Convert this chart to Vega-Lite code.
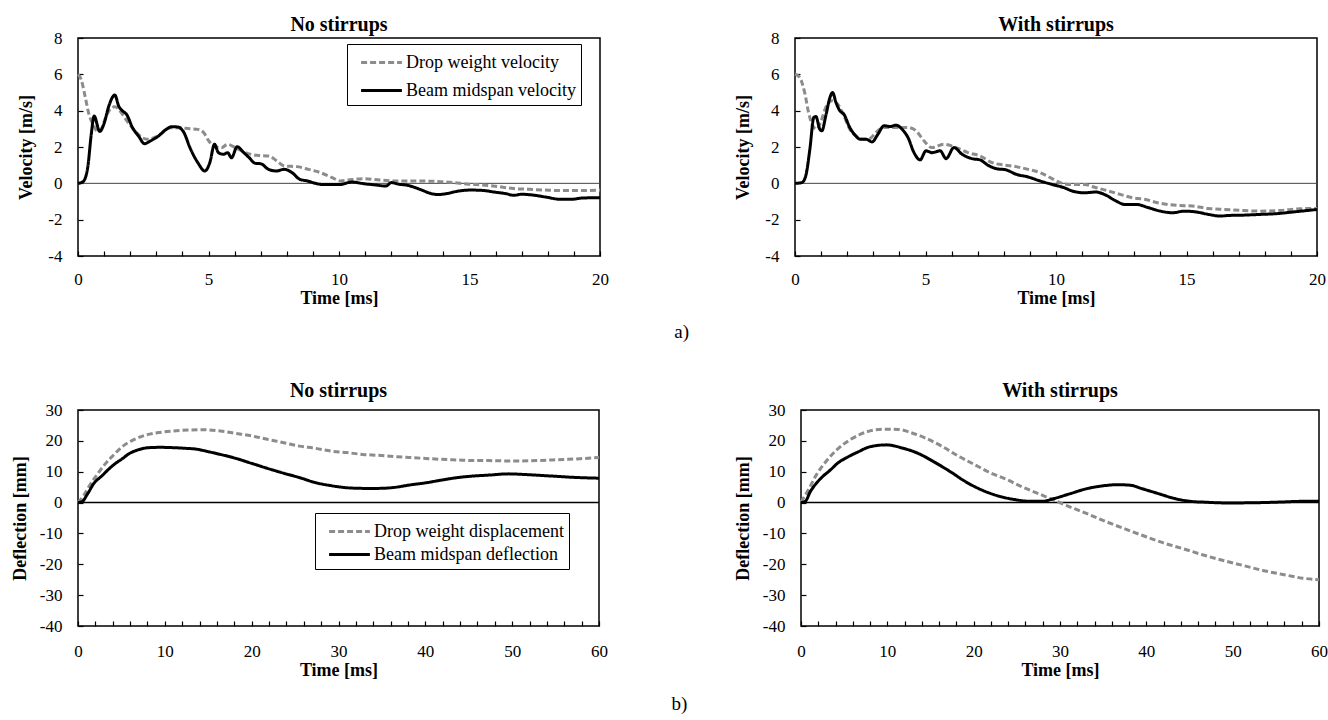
{
  "$schema": "https://vega.github.io/schema/vega-lite/v6.json",
  "background": "white",
  "padding": {"left": 10, "top": 14, "right": 2, "bottom": 2},
  "spacing": 38,
  "datasets": {
    "velNo": [
      {"t":0,"v":6.0,"s":"Drop weight velocity"},{"t":0.12,"v":5.72,"s":"Drop weight velocity"},{"t":0.27,"v":4.8,"s":"Drop weight velocity"},{"t":0.42,"v":3.8,"s":"Drop weight velocity"},{"t":0.58,"v":3.25,"s":"Drop weight velocity"},{"t":0.73,"v":2.88,"s":"Drop weight velocity"},{"t":0.88,"v":2.97,"s":"Drop weight velocity"},{"t":1.03,"v":3.52,"s":"Drop weight velocity"},{"t":1.23,"v":4.07,"s":"Drop weight velocity"},{"t":1.41,"v":4.22,"s":"Drop weight velocity"},{"t":1.56,"v":4.07,"s":"Drop weight velocity"},{"t":1.79,"v":3.61,"s":"Drop weight velocity"},{"t":2.02,"v":3.16,"s":"Drop weight velocity"},{"t":2.24,"v":2.79,"s":"Drop weight velocity"},{"t":2.47,"v":2.51,"s":"Drop weight velocity"},{"t":2.7,"v":2.42,"s":"Drop weight velocity"},{"t":2.92,"v":2.51,"s":"Drop weight velocity"},{"t":3.23,"v":2.79,"s":"Drop weight velocity"},{"t":3.53,"v":3.06,"s":"Drop weight velocity"},{"t":3.83,"v":3.06,"s":"Drop weight velocity"},{"t":4.29,"v":3.0,"s":"Drop weight velocity"},{"t":4.59,"v":2.97,"s":"Drop weight velocity"},{"t":4.82,"v":2.79,"s":"Drop weight velocity"},{"t":4.97,"v":2.42,"s":"Drop weight velocity"},{"t":5.2,"v":2.06,"s":"Drop weight velocity"},{"t":5.5,"v":1.96,"s":"Drop weight velocity"},{"t":5.73,"v":2.15,"s":"Drop weight velocity"},{"t":6.03,"v":1.96,"s":"Drop weight velocity"},{"t":6.41,"v":1.69,"s":"Drop weight velocity"},{"t":6.86,"v":1.54,"s":"Drop weight velocity"},{"t":7.32,"v":1.5,"s":"Drop weight velocity"},{"t":7.62,"v":1.23,"s":"Drop weight velocity"},{"t":7.92,"v":0.95,"s":"Drop weight velocity"},{"t":8.38,"v":0.92,"s":"Drop weight velocity"},{"t":8.83,"v":0.77,"s":"Drop weight velocity"},{"t":9.29,"v":0.59,"s":"Drop weight velocity"},{"t":9.74,"v":0.31,"s":"Drop weight velocity"},{"t":10.05,"v":0.13,"s":"Drop weight velocity"},{"t":10.35,"v":0.18,"s":"Drop weight velocity"},{"t":10.95,"v":0.26,"s":"Drop weight velocity"},{"t":11.56,"v":0.18,"s":"Drop weight velocity"},{"t":12.17,"v":0.13,"s":"Drop weight velocity"},{"t":12.9,"v":0.13,"s":"Drop weight velocity"},{"t":13.7,"v":0.11,"s":"Drop weight velocity"},{"t":14.4,"v":0.04,"s":"Drop weight velocity"},{"t":14.9,"v":-0.04,"s":"Drop weight velocity"},{"t":15.5,"v":-0.09,"s":"Drop weight velocity"},{"t":16.1,"v":-0.18,"s":"Drop weight velocity"},{"t":16.7,"v":-0.29,"s":"Drop weight velocity"},{"t":17.3,"v":-0.33,"s":"Drop weight velocity"},{"t":17.9,"v":-0.37,"s":"Drop weight velocity"},{"t":18.5,"v":-0.4,"s":"Drop weight velocity"},{"t":19.3,"v":-0.4,"s":"Drop weight velocity"},{"t":20,"v":-0.37,"s":"Drop weight velocity"},
      {"t":0,"v":0,"s":"Beam midspan velocity"},{"t":0.2,"v":0.1,"s":"Beam midspan velocity"},{"t":0.38,"v":0.95,"s":"Beam midspan velocity"},{"t":0.5,"v":2.6,"s":"Beam midspan velocity"},{"t":0.62,"v":3.7,"s":"Beam midspan velocity"},{"t":0.83,"v":2.85,"s":"Beam midspan velocity"},{"t":1.0,"v":3.3,"s":"Beam midspan velocity"},{"t":1.18,"v":4.25,"s":"Beam midspan velocity"},{"t":1.41,"v":4.86,"s":"Beam midspan velocity"},{"t":1.56,"v":4.25,"s":"Beam midspan velocity"},{"t":1.71,"v":3.98,"s":"Beam midspan velocity"},{"t":1.86,"v":3.8,"s":"Beam midspan velocity"},{"t":2.09,"v":3.06,"s":"Beam midspan velocity"},{"t":2.32,"v":2.6,"s":"Beam midspan velocity"},{"t":2.55,"v":2.18,"s":"Beam midspan velocity"},{"t":2.77,"v":2.33,"s":"Beam midspan velocity"},{"t":3.08,"v":2.6,"s":"Beam midspan velocity"},{"t":3.38,"v":2.97,"s":"Beam midspan velocity"},{"t":3.6,"v":3.12,"s":"Beam midspan velocity"},{"t":3.83,"v":3.1,"s":"Beam midspan velocity"},{"t":4.06,"v":2.79,"s":"Beam midspan velocity"},{"t":4.29,"v":1.96,"s":"Beam midspan velocity"},{"t":4.59,"v":1.14,"s":"Beam midspan velocity"},{"t":4.86,"v":0.68,"s":"Beam midspan velocity"},{"t":5.05,"v":1.14,"s":"Beam midspan velocity"},{"t":5.23,"v":2.15,"s":"Beam midspan velocity"},{"t":5.38,"v":1.69,"s":"Beam midspan velocity"},{"t":5.58,"v":1.6,"s":"Beam midspan velocity"},{"t":5.73,"v":1.69,"s":"Beam midspan velocity"},{"t":5.88,"v":1.41,"s":"Beam midspan velocity"},{"t":6.1,"v":2.02,"s":"Beam midspan velocity"},{"t":6.33,"v":1.72,"s":"Beam midspan velocity"},{"t":6.56,"v":1.41,"s":"Beam midspan velocity"},{"t":6.79,"v":1.1,"s":"Beam midspan velocity"},{"t":7.0,"v":1.08,"s":"Beam midspan velocity"},{"t":7.3,"v":0.77,"s":"Beam midspan velocity"},{"t":7.6,"v":0.68,"s":"Beam midspan velocity"},{"t":7.9,"v":0.77,"s":"Beam midspan velocity"},{"t":8.2,"v":0.59,"s":"Beam midspan velocity"},{"t":8.5,"v":0.22,"s":"Beam midspan velocity"},{"t":8.8,"v":0.13,"s":"Beam midspan velocity"},{"t":9.1,"v":0,"s":"Beam midspan velocity"},{"t":9.4,"v":-0.07,"s":"Beam midspan velocity"},{"t":10.0,"v":-0.07,"s":"Beam midspan velocity"},{"t":10.5,"v":0.07,"s":"Beam midspan velocity"},{"t":10.95,"v":-0.02,"s":"Beam midspan velocity"},{"t":11.4,"v":-0.09,"s":"Beam midspan velocity"},{"t":11.8,"v":-0.15,"s":"Beam midspan velocity"},{"t":12.0,"v":0.04,"s":"Beam midspan velocity"},{"t":12.3,"v":-0.05,"s":"Beam midspan velocity"},{"t":12.6,"v":-0.1,"s":"Beam midspan velocity"},{"t":13.1,"v":-0.33,"s":"Beam midspan velocity"},{"t":13.5,"v":-0.55,"s":"Beam midspan velocity"},{"t":13.8,"v":-0.62,"s":"Beam midspan velocity"},{"t":14.1,"v":-0.57,"s":"Beam midspan velocity"},{"t":14.6,"v":-0.42,"s":"Beam midspan velocity"},{"t":15.05,"v":-0.37,"s":"Beam midspan velocity"},{"t":15.5,"v":-0.39,"s":"Beam midspan velocity"},{"t":15.95,"v":-0.48,"s":"Beam midspan velocity"},{"t":16.4,"v":-0.57,"s":"Beam midspan velocity"},{"t":16.7,"v":-0.66,"s":"Beam midspan velocity"},{"t":17.0,"v":-0.6,"s":"Beam midspan velocity"},{"t":17.5,"v":-0.66,"s":"Beam midspan velocity"},{"t":17.9,"v":-0.75,"s":"Beam midspan velocity"},{"t":18.5,"v":-0.88,"s":"Beam midspan velocity"},{"t":18.9,"v":-0.88,"s":"Beam midspan velocity"},{"t":19.3,"v":-0.81,"s":"Beam midspan velocity"},{"t":20,"v":-0.79,"s":"Beam midspan velocity"}
    ],
    "velWith": [
      {"t":0,"v":6.02,"s":"Drop weight velocity"},{"t":0.18,"v":5.83,"s":"Drop weight velocity"},{"t":0.37,"v":5.0,"s":"Drop weight velocity"},{"t":0.52,"v":3.9,"s":"Drop weight velocity"},{"t":0.68,"v":3.17,"s":"Drop weight velocity"},{"t":0.83,"v":2.98,"s":"Drop weight velocity"},{"t":0.98,"v":3.35,"s":"Drop weight velocity"},{"t":1.18,"v":4.18,"s":"Drop weight velocity"},{"t":1.41,"v":4.55,"s":"Drop weight velocity"},{"t":1.64,"v":4.36,"s":"Drop weight velocity"},{"t":1.87,"v":3.72,"s":"Drop weight velocity"},{"t":2.1,"v":2.98,"s":"Drop weight velocity"},{"t":2.33,"v":2.61,"s":"Drop weight velocity"},{"t":2.64,"v":2.43,"s":"Drop weight velocity"},{"t":2.87,"v":2.47,"s":"Drop weight velocity"},{"t":3.1,"v":2.8,"s":"Drop weight velocity"},{"t":3.41,"v":3.07,"s":"Drop weight velocity"},{"t":3.87,"v":3.07,"s":"Drop weight velocity"},{"t":4.33,"v":3.07,"s":"Drop weight velocity"},{"t":4.64,"v":2.89,"s":"Drop weight velocity"},{"t":4.94,"v":2.34,"s":"Drop weight velocity"},{"t":5.25,"v":1.97,"s":"Drop weight velocity"},{"t":5.71,"v":2.15,"s":"Drop weight velocity"},{"t":6.17,"v":1.97,"s":"Drop weight velocity"},{"t":6.63,"v":1.69,"s":"Drop weight velocity"},{"t":7.09,"v":1.51,"s":"Drop weight velocity"},{"t":7.55,"v":1.14,"s":"Drop weight velocity"},{"t":8.01,"v":1.01,"s":"Drop weight velocity"},{"t":8.47,"v":0.92,"s":"Drop weight velocity"},{"t":8.93,"v":0.77,"s":"Drop weight velocity"},{"t":9.39,"v":0.59,"s":"Drop weight velocity"},{"t":9.85,"v":0.26,"s":"Drop weight velocity"},{"t":10.16,"v":0.04,"s":"Drop weight velocity"},{"t":10.62,"v":-0.07,"s":"Drop weight velocity"},{"t":11.08,"v":-0.07,"s":"Drop weight velocity"},{"t":11.54,"v":-0.24,"s":"Drop weight velocity"},{"t":12.0,"v":-0.42,"s":"Drop weight velocity"},{"t":12.46,"v":-0.61,"s":"Drop weight velocity"},{"t":12.92,"v":-0.79,"s":"Drop weight velocity"},{"t":13.38,"v":-0.88,"s":"Drop weight velocity"},{"t":14.0,"v":-1.1,"s":"Drop weight velocity"},{"t":14.61,"v":-1.21,"s":"Drop weight velocity"},{"t":15.23,"v":-1.25,"s":"Drop weight velocity"},{"t":15.84,"v":-1.38,"s":"Drop weight velocity"},{"t":16.45,"v":-1.44,"s":"Drop weight velocity"},{"t":17.07,"v":-1.49,"s":"Drop weight velocity"},{"t":17.84,"v":-1.53,"s":"Drop weight velocity"},{"t":18.6,"v":-1.49,"s":"Drop weight velocity"},{"t":19.37,"v":-1.4,"s":"Drop weight velocity"},{"t":20,"v":-1.38,"s":"Drop weight velocity"},
      {"t":0,"v":0,"s":"Beam midspan velocity"},{"t":0.26,"v":0.04,"s":"Beam midspan velocity"},{"t":0.41,"v":0.4,"s":"Beam midspan velocity"},{"t":0.57,"v":1.88,"s":"Beam midspan velocity"},{"t":0.72,"v":3.63,"s":"Beam midspan velocity"},{"t":0.8,"v":3.68,"s":"Beam midspan velocity"},{"t":0.95,"v":2.98,"s":"Beam midspan velocity"},{"t":1.03,"v":2.89,"s":"Beam midspan velocity"},{"t":1.18,"v":3.72,"s":"Beam midspan velocity"},{"t":1.34,"v":4.73,"s":"Beam midspan velocity"},{"t":1.44,"v":5.0,"s":"Beam midspan velocity"},{"t":1.57,"v":4.45,"s":"Beam midspan velocity"},{"t":1.72,"v":3.99,"s":"Beam midspan velocity"},{"t":1.87,"v":3.81,"s":"Beam midspan velocity"},{"t":2.1,"v":3.07,"s":"Beam midspan velocity"},{"t":2.33,"v":2.61,"s":"Beam midspan velocity"},{"t":2.49,"v":2.43,"s":"Beam midspan velocity"},{"t":2.72,"v":2.43,"s":"Beam midspan velocity"},{"t":2.95,"v":2.28,"s":"Beam midspan velocity"},{"t":3.18,"v":2.71,"s":"Beam midspan velocity"},{"t":3.41,"v":3.17,"s":"Beam midspan velocity"},{"t":3.64,"v":3.13,"s":"Beam midspan velocity"},{"t":3.87,"v":3.2,"s":"Beam midspan velocity"},{"t":4.1,"v":2.98,"s":"Beam midspan velocity"},{"t":4.33,"v":2.52,"s":"Beam midspan velocity"},{"t":4.56,"v":1.69,"s":"Beam midspan velocity"},{"t":4.79,"v":1.29,"s":"Beam midspan velocity"},{"t":5.02,"v":1.79,"s":"Beam midspan velocity"},{"t":5.25,"v":1.69,"s":"Beam midspan velocity"},{"t":5.56,"v":1.79,"s":"Beam midspan velocity"},{"t":5.79,"v":1.36,"s":"Beam midspan velocity"},{"t":6.09,"v":1.97,"s":"Beam midspan velocity"},{"t":6.4,"v":1.6,"s":"Beam midspan velocity"},{"t":6.78,"v":1.36,"s":"Beam midspan velocity"},{"t":7.09,"v":1.29,"s":"Beam midspan velocity"},{"t":7.4,"v":0.99,"s":"Beam midspan velocity"},{"t":7.71,"v":0.81,"s":"Beam midspan velocity"},{"t":8.09,"v":0.74,"s":"Beam midspan velocity"},{"t":8.47,"v":0.5,"s":"Beam midspan velocity"},{"t":8.93,"v":0.35,"s":"Beam midspan velocity"},{"t":9.39,"v":0.13,"s":"Beam midspan velocity"},{"t":9.85,"v":-0.06,"s":"Beam midspan velocity"},{"t":10.31,"v":-0.24,"s":"Beam midspan velocity"},{"t":10.62,"v":-0.42,"s":"Beam midspan velocity"},{"t":11.08,"v":-0.52,"s":"Beam midspan velocity"},{"t":11.54,"v":-0.48,"s":"Beam midspan velocity"},{"t":11.85,"v":-0.61,"s":"Beam midspan velocity"},{"t":12.31,"v":-0.98,"s":"Beam midspan velocity"},{"t":12.62,"v":-1.16,"s":"Beam midspan velocity"},{"t":13.08,"v":-1.16,"s":"Beam midspan velocity"},{"t":13.54,"v":-1.34,"s":"Beam midspan velocity"},{"t":14.0,"v":-1.53,"s":"Beam midspan velocity"},{"t":14.46,"v":-1.62,"s":"Beam midspan velocity"},{"t":14.92,"v":-1.53,"s":"Beam midspan velocity"},{"t":15.38,"v":-1.58,"s":"Beam midspan velocity"},{"t":15.84,"v":-1.71,"s":"Beam midspan velocity"},{"t":16.3,"v":-1.8,"s":"Beam midspan velocity"},{"t":16.6,"v":-1.77,"s":"Beam midspan velocity"},{"t":17.2,"v":-1.75,"s":"Beam midspan velocity"},{"t":17.84,"v":-1.71,"s":"Beam midspan velocity"},{"t":18.45,"v":-1.67,"s":"Beam midspan velocity"},{"t":19.06,"v":-1.58,"s":"Beam midspan velocity"},{"t":20,"v":-1.44,"s":"Beam midspan velocity"}
    ],
    "defNo": [
      {"t":0,"v":0,"s":"Drop weight displacement"},{"t":0.68,"v":2.4,"s":"Drop weight displacement"},{"t":1.37,"v":5.7,"s":"Drop weight displacement"},{"t":2.28,"v":9.4,"s":"Drop weight displacement"},{"t":3.19,"v":12.7,"s":"Drop weight displacement"},{"t":4.1,"v":15.4,"s":"Drop weight displacement"},{"t":5.0,"v":17.9,"s":"Drop weight displacement"},{"t":6.37,"v":20.3,"s":"Drop weight displacement"},{"t":7.74,"v":21.8,"s":"Drop weight displacement"},{"t":9.1,"v":22.6,"s":"Drop weight displacement"},{"t":10.9,"v":23.2,"s":"Drop weight displacement"},{"t":12.7,"v":23.5,"s":"Drop weight displacement"},{"t":14.6,"v":23.6,"s":"Drop weight displacement"},{"t":16.4,"v":23.2,"s":"Drop weight displacement"},{"t":18.2,"v":22.4,"s":"Drop weight displacement"},{"t":20.0,"v":21.6,"s":"Drop weight displacement"},{"t":21.8,"v":20.5,"s":"Drop weight displacement"},{"t":23.7,"v":19.4,"s":"Drop weight displacement"},{"t":25.5,"v":18.3,"s":"Drop weight displacement"},{"t":27.3,"v":17.6,"s":"Drop weight displacement"},{"t":29.1,"v":16.7,"s":"Drop weight displacement"},{"t":30.95,"v":16.2,"s":"Drop weight displacement"},{"t":32.8,"v":15.6,"s":"Drop weight displacement"},{"t":34.6,"v":15.3,"s":"Drop weight displacement"},{"t":36.4,"v":14.9,"s":"Drop weight displacement"},{"t":38.2,"v":14.6,"s":"Drop weight displacement"},{"t":40.05,"v":14.3,"s":"Drop weight displacement"},{"t":41.9,"v":14.0,"s":"Drop weight displacement"},{"t":43.7,"v":13.8,"s":"Drop weight displacement"},{"t":45.5,"v":13.6,"s":"Drop weight displacement"},{"t":47.3,"v":13.6,"s":"Drop weight displacement"},{"t":49.2,"v":13.5,"s":"Drop weight displacement"},{"t":51.0,"v":13.5,"s":"Drop weight displacement"},{"t":52.8,"v":13.6,"s":"Drop weight displacement"},{"t":54.6,"v":13.8,"s":"Drop weight displacement"},{"t":56.4,"v":14.0,"s":"Drop weight displacement"},{"t":58.3,"v":14.3,"s":"Drop weight displacement"},{"t":60,"v":14.6,"s":"Drop weight displacement"},
      {"t":0,"v":0,"s":"Beam midspan deflection"},{"t":0.46,"v":0.3,"s":"Beam midspan deflection"},{"t":1.14,"v":3.0,"s":"Beam midspan deflection"},{"t":1.82,"v":6.2,"s":"Beam midspan deflection"},{"t":2.73,"v":8.6,"s":"Beam midspan deflection"},{"t":3.64,"v":11.1,"s":"Beam midspan deflection"},{"t":4.32,"v":12.7,"s":"Beam midspan deflection"},{"t":5.0,"v":14.0,"s":"Beam midspan deflection"},{"t":5.92,"v":15.9,"s":"Beam midspan deflection"},{"t":6.83,"v":17.0,"s":"Beam midspan deflection"},{"t":8.19,"v":17.8,"s":"Beam midspan deflection"},{"t":9.56,"v":17.9,"s":"Beam midspan deflection"},{"t":10.9,"v":17.8,"s":"Beam midspan deflection"},{"t":12.3,"v":17.6,"s":"Beam midspan deflection"},{"t":13.65,"v":17.3,"s":"Beam midspan deflection"},{"t":15.0,"v":16.5,"s":"Beam midspan deflection"},{"t":16.4,"v":15.6,"s":"Beam midspan deflection"},{"t":18.2,"v":14.3,"s":"Beam midspan deflection"},{"t":20.0,"v":12.7,"s":"Beam midspan deflection"},{"t":21.8,"v":11.1,"s":"Beam midspan deflection"},{"t":23.7,"v":9.5,"s":"Beam midspan deflection"},{"t":25.5,"v":8.1,"s":"Beam midspan deflection"},{"t":27.3,"v":6.5,"s":"Beam midspan deflection"},{"t":29.1,"v":5.5,"s":"Beam midspan deflection"},{"t":31.0,"v":4.8,"s":"Beam midspan deflection"},{"t":32.8,"v":4.6,"s":"Beam midspan deflection"},{"t":34.6,"v":4.6,"s":"Beam midspan deflection"},{"t":36.4,"v":4.9,"s":"Beam midspan deflection"},{"t":38.2,"v":5.7,"s":"Beam midspan deflection"},{"t":40.05,"v":6.4,"s":"Beam midspan deflection"},{"t":41.9,"v":7.3,"s":"Beam midspan deflection"},{"t":43.7,"v":8.1,"s":"Beam midspan deflection"},{"t":45.5,"v":8.6,"s":"Beam midspan deflection"},{"t":47.3,"v":8.9,"s":"Beam midspan deflection"},{"t":49.6,"v":9.3,"s":"Beam midspan deflection"},{"t":51.4,"v":9.1,"s":"Beam midspan deflection"},{"t":53.3,"v":8.8,"s":"Beam midspan deflection"},{"t":55.1,"v":8.5,"s":"Beam midspan deflection"},{"t":56.9,"v":8.2,"s":"Beam midspan deflection"},{"t":58.7,"v":8.0,"s":"Beam midspan deflection"},{"t":60,"v":7.9,"s":"Beam midspan deflection"}
    ],
    "defWith": [
      {"t":0,"v":0.2,"s":"Drop weight displacement"},{"t":0.83,"v":4.0,"s":"Drop weight displacement"},{"t":1.76,"v":8.9,"s":"Drop weight displacement"},{"t":2.92,"v":13.4,"s":"Drop weight displacement"},{"t":4.3,"v":17.5,"s":"Drop weight displacement"},{"t":5.7,"v":20.4,"s":"Drop weight displacement"},{"t":7.1,"v":22.4,"s":"Drop weight displacement"},{"t":8.5,"v":23.5,"s":"Drop weight displacement"},{"t":9.9,"v":23.8,"s":"Drop weight displacement"},{"t":11.3,"v":23.7,"s":"Drop weight displacement"},{"t":12.7,"v":22.7,"s":"Drop weight displacement"},{"t":14.5,"v":20.8,"s":"Drop weight displacement"},{"t":16.4,"v":18.1,"s":"Drop weight displacement"},{"t":18.2,"v":15.1,"s":"Drop weight displacement"},{"t":20.1,"v":12.3,"s":"Drop weight displacement"},{"t":21.9,"v":9.7,"s":"Drop weight displacement"},{"t":23.8,"v":7.5,"s":"Drop weight displacement"},{"t":25.6,"v":5.1,"s":"Drop weight displacement"},{"t":27.5,"v":2.9,"s":"Drop weight displacement"},{"t":29.3,"v":0.8,"s":"Drop weight displacement"},{"t":30.7,"v":-0.9,"s":"Drop weight displacement"},{"t":32.6,"v":-3.0,"s":"Drop weight displacement"},{"t":34.9,"v":-5.7,"s":"Drop weight displacement"},{"t":37.2,"v":-8.2,"s":"Drop weight displacement"},{"t":39.5,"v":-10.6,"s":"Drop weight displacement"},{"t":41.9,"v":-13.0,"s":"Drop weight displacement"},{"t":44.2,"v":-14.9,"s":"Drop weight displacement"},{"t":46.5,"v":-16.9,"s":"Drop weight displacement"},{"t":48.8,"v":-18.7,"s":"Drop weight displacement"},{"t":51.1,"v":-20.3,"s":"Drop weight displacement"},{"t":53.5,"v":-22.0,"s":"Drop weight displacement"},{"t":55.8,"v":-23.3,"s":"Drop weight displacement"},{"t":58.1,"v":-24.5,"s":"Drop weight displacement"},{"t":60,"v":-25.0,"s":"Drop weight displacement"},
      {"t":0,"v":0,"s":"Beam midspan deflection"},{"t":0.5,"v":0.4,"s":"Beam midspan deflection"},{"t":1.07,"v":3.5,"s":"Beam midspan deflection"},{"t":1.76,"v":6.2,"s":"Beam midspan deflection"},{"t":2.46,"v":8.3,"s":"Beam midspan deflection"},{"t":3.38,"v":10.5,"s":"Beam midspan deflection"},{"t":4.3,"v":12.9,"s":"Beam midspan deflection"},{"t":5.24,"v":14.5,"s":"Beam midspan deflection"},{"t":6.6,"v":16.4,"s":"Beam midspan deflection"},{"t":8.0,"v":18.1,"s":"Beam midspan deflection"},{"t":9.9,"v":18.7,"s":"Beam midspan deflection"},{"t":11.7,"v":17.7,"s":"Beam midspan deflection"},{"t":13.6,"v":15.9,"s":"Beam midspan deflection"},{"t":15.4,"v":13.2,"s":"Beam midspan deflection"},{"t":17.3,"v":10.0,"s":"Beam midspan deflection"},{"t":19.1,"v":6.7,"s":"Beam midspan deflection"},{"t":21.0,"v":4.0,"s":"Beam midspan deflection"},{"t":22.9,"v":2.1,"s":"Beam midspan deflection"},{"t":24.7,"v":1.0,"s":"Beam midspan deflection"},{"t":26.6,"v":0.4,"s":"Beam midspan deflection"},{"t":27.96,"v":0.4,"s":"Beam midspan deflection"},{"t":29.3,"v":1.3,"s":"Beam midspan deflection"},{"t":31.2,"v":2.9,"s":"Beam midspan deflection"},{"t":33.1,"v":4.5,"s":"Beam midspan deflection"},{"t":34.9,"v":5.4,"s":"Beam midspan deflection"},{"t":36.8,"v":5.8,"s":"Beam midspan deflection"},{"t":38.2,"v":5.6,"s":"Beam midspan deflection"},{"t":39.5,"v":4.5,"s":"Beam midspan deflection"},{"t":41.4,"v":2.9,"s":"Beam midspan deflection"},{"t":43.3,"v":1.3,"s":"Beam midspan deflection"},{"t":45.1,"v":0.4,"s":"Beam midspan deflection"},{"t":47.0,"v":0.1,"s":"Beam midspan deflection"},{"t":48.8,"v":-0.1,"s":"Beam midspan deflection"},{"t":51.1,"v":-0.1,"s":"Beam midspan deflection"},{"t":53.5,"v":0,"s":"Beam midspan deflection"},{"t":55.8,"v":0.2,"s":"Beam midspan deflection"},{"t":58.1,"v":0.4,"s":"Beam midspan deflection"},{"t":60,"v":0.4,"s":"Beam midspan deflection"}
    ]
  },
  "vconcat": [
    {
      "title": {"text": "a)", "orient": "bottom", "anchor": "middle", "fontSize": 19, "fontWeight": "normal", "font": "Liberation Serif", "dx": 10, "offset": 15},
      "spacing": 124,
      "hconcat": [
        {
          "width": 522, "height": 218,
          "title": "No stirrups",
          "layer": [
            {"data": {"values": [{}]}, "mark": {"type": "rule", "color": "#444444", "strokeWidth": 1}, "encoding": {"y": {"datum": 0, "type": "quantitative"}}},
            {"data": {"name": "velNo"}, "transform": [{"filter": "datum.s === 'Drop weight velocity'"}], "mark": {"type": "line", "strokeWidth": 3, "interpolate": "monotone"},
             "encoding": {
               "x": {"field": "t", "type": "quantitative", "scale": {"domain": [0, 20], "nice": false}, "axis": {"title": "Time [ms]", "values": [0,1,2,3,4,5,6,7,8,9,10,11,12,13,14,15,16,17,18,19,20], "tickCount": 200, "labelExpr": "datum.value % 5 === 0 ? '' + datum.value : ''", "tickSize": -5, "labelOverlap": false, "labelPadding": 20, "titlePadding": 2}},
               "y": {"field": "v", "type": "quantitative", "scale": {"domain": [-4, 8], "nice": false}, "axis": {"title": "Velocity [m/s]", "values": [-4,-2,0,2,4,6,8], "tickCount": 200, "labelExpr": "'' + datum.value", "tickSize": -5, "labelOverlap": false, "labelPadding": 21, "titlePadding": 12}},
               "color": {"field": "s", "type": "nominal", "scale": {"domain": ["Drop weight velocity", "Beam midspan velocity"], "range": ["#8c8c8c", "#000000"]}, "legend": {"title": null, "orient": "none", "legendX": 269, "legendY": 6, "rowPadding": 5}},
               "strokeDash": {"field": "s", "type": "nominal", "scale": {"domain": ["Drop weight velocity", "Beam midspan velocity"], "range": [[6, 3], [1, 0]]}, "legend": {"title": null, "orient": "none", "legendX": 269, "legendY": 6, "rowPadding": 5}}
             }},
            {"data": {"name": "velNo"}, "transform": [{"filter": "datum.s === 'Beam midspan velocity'"}], "mark": {"type": "line", "strokeWidth": 3, "interpolate": "monotone"},
             "encoding": {
               "x": {"field": "t", "type": "quantitative"},
               "y": {"field": "v", "type": "quantitative"},
               "color": {"field": "s", "type": "nominal"},
               "strokeDash": {"field": "s", "type": "nominal"}
             }}
          ]
        },
        {
          "width": 522, "height": 218,
          "title": "With stirrups",
          "layer": [
            {"data": {"values": [{}]}, "mark": {"type": "rule", "color": "#444444", "strokeWidth": 1}, "encoding": {"y": {"datum": 0, "type": "quantitative"}}},
            {"data": {"name": "velWith"}, "transform": [{"filter": "datum.s === 'Drop weight velocity'"}], "mark": {"type": "line", "strokeWidth": 3, "interpolate": "monotone"},
             "encoding": {
               "x": {"field": "t", "type": "quantitative", "scale": {"domain": [0, 20], "nice": false}, "axis": {"title": "Time [ms]", "values": [0,1,2,3,4,5,6,7,8,9,10,11,12,13,14,15,16,17,18,19,20], "tickCount": 200, "labelExpr": "datum.value % 5 === 0 ? '' + datum.value : ''", "tickSize": -5, "labelOverlap": false, "labelPadding": 20, "titlePadding": 2}},
               "y": {"field": "v", "type": "quantitative", "scale": {"domain": [-4, 8], "nice": false}, "axis": {"title": "Velocity [m/s]", "values": [-4,-2,0,2,4,6,8], "tickCount": 200, "labelExpr": "'' + datum.value", "tickSize": -5, "labelOverlap": false, "labelPadding": 21, "titlePadding": 12}},
               "color": {"field": "s", "type": "nominal", "scale": {"domain": ["Drop weight velocity", "Beam midspan velocity"], "range": ["#8c8c8c", "#000000"]}, "legend": {"title": null, "orient": "none", "legendX": 269, "legendY": 7, "rowPadding": 3}},
               "strokeDash": {"field": "s", "type": "nominal", "scale": {"domain": ["Drop weight velocity", "Beam midspan velocity"], "range": [[6, 3], [1, 0]]}, "legend": {"title": null, "orient": "none", "legendX": 269, "legendY": 7, "rowPadding": 3}}
             }},
            {"data": {"name": "velWith"}, "transform": [{"filter": "datum.s === 'Beam midspan velocity'"}], "mark": {"type": "line", "strokeWidth": 3, "interpolate": "monotone"},
             "encoding": {
               "x": {"field": "t", "type": "quantitative"},
               "y": {"field": "v", "type": "quantitative"},
               "color": {"field": "s", "type": "nominal"},
               "strokeDash": {"field": "s", "type": "nominal"}
             }}
          ]
        }
      ]
    },
    {
      "title": {"text": "b)", "orient": "bottom", "anchor": "middle", "fontSize": 19, "fontWeight": "normal", "font": "Liberation Serif", "dx": 10, "offset": 15},
      "spacing": 124,
      "hconcat": [
        {
          "width": 521, "height": 216,
          "title": {"text": "No stirrups", "offset": 0},
          "layer": [
            {"data": {"values": [{}]}, "mark": {"type": "rule", "color": "#000000", "strokeWidth": 1.6}, "encoding": {"y": {"datum": 0, "type": "quantitative"}}},
            {"data": {"name": "defNo"}, "transform": [{"filter": "datum.s === 'Drop weight displacement'"}], "mark": {"type": "line", "strokeWidth": 3, "interpolate": "monotone"},
             "encoding": {
               "x": {"field": "t", "type": "quantitative", "scale": {"domain": [0, 60], "nice": false}, "axis": {"title": "Time [ms]", "values": [0,2,4,6,8,10,12,14,16,18,20,22,24,26,28,30,32,34,36,38,40,42,44,46,48,50,52,54,56,58,60], "tickCount": 200, "labelExpr": "datum.value % 10 === 0 ? '' + datum.value : ''", "tickSize": -5, "labelOverlap": false, "labelPadding": 22, "titlePadding": 2}},
               "y": {"field": "v", "type": "quantitative", "scale": {"domain": [-40, 30], "nice": false}, "axis": {"title": "Deflection [mm]", "values": [-40,-30,-20,-10,0,10,20,30], "tickCount": 200, "labelExpr": "'' + datum.value", "tickSize": -5, "labelOverlap": false, "labelPadding": 21, "titlePadding": 10}},
               "color": {"field": "s", "type": "nominal", "scale": {"domain": ["Drop weight displacement", "Beam midspan deflection"], "range": ["#8c8c8c", "#000000"]}, "legend": {"title": null, "orient": "none", "legendX": 237, "legendY": 103, "rowPadding": -1}},
               "strokeDash": {"field": "s", "type": "nominal", "scale": {"domain": ["Drop weight displacement", "Beam midspan deflection"], "range": [[6, 3], [1, 0]]}, "legend": {"title": null, "orient": "none", "legendX": 237, "legendY": 103, "rowPadding": -1}}
             }},
            {"data": {"name": "defNo"}, "transform": [{"filter": "datum.s === 'Beam midspan deflection'"}], "mark": {"type": "line", "strokeWidth": 3, "interpolate": "monotone"},
             "encoding": {
               "x": {"field": "t", "type": "quantitative"},
               "y": {"field": "v", "type": "quantitative"},
               "color": {"field": "s", "type": "nominal"},
               "strokeDash": {"field": "s", "type": "nominal"}
             }}
          ]
        },
        {
          "width": 518, "height": 216,
          "title": {"text": "With stirrups", "offset": 0},
          "layer": [
            {"data": {"values": [{}]}, "mark": {"type": "rule", "color": "#000000", "strokeWidth": 1.6}, "encoding": {"y": {"datum": 0, "type": "quantitative"}}},
            {"data": {"name": "defWith"}, "transform": [{"filter": "datum.s === 'Drop weight displacement'"}], "mark": {"type": "line", "strokeWidth": 3, "interpolate": "monotone"},
             "encoding": {
               "x": {"field": "t", "type": "quantitative", "scale": {"domain": [0, 60], "nice": false}, "axis": {"title": "Time [ms]", "values": [0,2,4,6,8,10,12,14,16,18,20,22,24,26,28,30,32,34,36,38,40,42,44,46,48,50,52,54,56,58,60], "tickCount": 200, "labelExpr": "datum.value % 10 === 0 ? '' + datum.value : ''", "tickSize": -5, "labelOverlap": false, "labelPadding": 22, "titlePadding": 2}},
               "y": {"field": "v", "type": "quantitative", "scale": {"domain": [-40, 30], "nice": false}, "axis": {"title": "Deflection [mm]", "values": [-40,-30,-20,-10,0,10,20,30], "tickCount": 200, "labelExpr": "'' + datum.value", "tickSize": -5, "labelOverlap": false, "labelPadding": 21, "titlePadding": 10}},
               "color": {"field": "s", "type": "nominal", "scale": {"domain": ["Drop weight displacement", "Beam midspan deflection"], "range": ["#8c8c8c", "#000000"]}, "legend": {"title": null, "orient": "none", "legendX": 239, "legendY": 6, "rowPadding": 2}},
               "strokeDash": {"field": "s", "type": "nominal", "scale": {"domain": ["Drop weight displacement", "Beam midspan deflection"], "range": [[6, 3], [1, 0]]}, "legend": {"title": null, "orient": "none", "legendX": 239, "legendY": 6, "rowPadding": 2}}
             }},
            {"data": {"name": "defWith"}, "transform": [{"filter": "datum.s === 'Beam midspan deflection'"}], "mark": {"type": "line", "strokeWidth": 3, "interpolate": "monotone"},
             "encoding": {
               "x": {"field": "t", "type": "quantitative"},
               "y": {"field": "v", "type": "quantitative"},
               "color": {"field": "s", "type": "nominal"},
               "strokeDash": {"field": "s", "type": "nominal"}
             }}
          ]
        }
      ]
    }
  ],
  "resolve": {"scale": {"color": "independent", "strokeDash": "independent", "x": "independent", "y": "independent"}, "legend": {"color": "independent", "strokeDash": "independent"}},
  "config": {
    "font": "Liberation Serif",
    "view": {"stroke": "black", "strokeWidth": 1.5},
    "axis": {"labelFont": "Liberation Serif", "labelFontSize": 17, "labelColor": "black", "titleFont": "Liberation Serif", "titleFontSize": 18, "titleFontWeight": "bold", "titleColor": "black", "tickColor": "black", "tickWidth": 1.2, "domain": false, "grid": false, "labelOverlap": false, "labelFlush": false},
    "title": {"font": "Liberation Serif", "fontSize": 20, "fontWeight": "bold", "color": "black", "offset": -6},
    "legend": {"labelFont": "Liberation Serif", "labelFontSize": 18, "labelColor": "black", "strokeColor": "black", "fillColor": "white", "padding": 5, "symbolType": "M-1.7,0L1.7,0", "symbolFillColor": "transparent", "symbolStrokeWidth": 3, "symbolSize": 576, "symbolOffset": 16, "labelOffset": 11, "labelLimit": 400}
  }
}
